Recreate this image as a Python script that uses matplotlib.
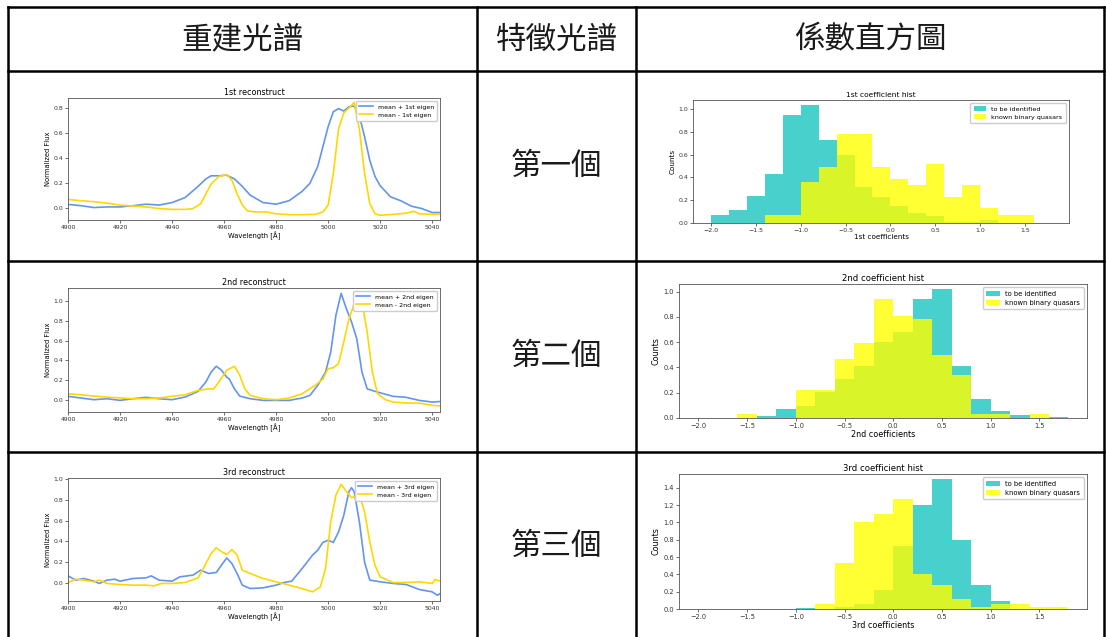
import matplotlib.pyplot as plt
import numpy as np

plt.rcParams['font.family'] = ['DejaVu Sans']

W, H = 1106, 637

# table text
headers = ['重建光譜', '特徵光譜', '係數直方圖']
row_labels = ['第一個', '第二個', '第三個']
ordinals = ['1st', '2nd', '3rd']

# ---- reconstructed spectra (wavelength in Angstrom, normalized flux) ----
wl_plus_1 = [4900, 4905, 4910, 4915, 4920, 4925, 4930, 4935, 4940, 4945, 4950, 4953, 4955,
             4958, 4961, 4964, 4967, 4970, 4975, 4980, 4985, 4990, 4993, 4996, 4998, 5000,
             5002, 5004, 5006, 5008, 5010, 5012, 5014, 5016, 5018, 5020, 5024, 5028, 5032,
             5036, 5040, 5044]
flux_plus_1 = [0.025, 0.015, 0.0, 0.005, 0.005, 0.015, 0.027, 0.02, 0.04, 0.08, 0.17, 0.23,
               0.255, 0.255, 0.26, 0.23, 0.17, 0.10, 0.04, 0.027, 0.055, 0.13, 0.195, 0.33,
               0.49, 0.65, 0.77, 0.795, 0.775, 0.81, 0.815, 0.735, 0.57, 0.38, 0.25, 0.175,
               0.086, 0.054, 0.011, -0.008, -0.04, -0.04]
wl_minus_1 = [4900, 4905, 4910, 4913, 4915, 4920, 4925, 4930, 4935, 4940, 4945, 4948, 4951,
              4953, 4955, 4958, 4961, 4963, 4965, 4967, 4969, 4972, 4976, 4980, 4985, 4990,
              4995, 4998, 5000, 5002, 5004, 5006, 5008, 5010, 5012, 5014, 5016, 5018, 5020,
              5025, 5030, 5033, 5035, 5040, 5044]
flux_minus_1 = [0.065, 0.055, 0.047, 0.04, 0.035, 0.02, 0.012, 0.005, -0.008, -0.015, -0.015,
                -0.008, 0.03, 0.11, 0.19, 0.25, 0.265, 0.22, 0.11, 0.02, -0.027, -0.035,
                -0.035, -0.05, -0.057, -0.057, -0.055, -0.035, 0.02, 0.275, 0.63, 0.76, 0.80,
                0.845, 0.63, 0.275, 0.032, -0.05, -0.062, -0.055, -0.045, -0.03, -0.05,
                -0.055, -0.05]

wl_plus_2 = [4900, 4905, 4910, 4915, 4920, 4925, 4930, 4935, 4940, 4945, 4950, 4953, 4955,
             4957, 4959, 4961, 4962, 4964, 4966, 4970, 4975, 4980, 4985, 4990, 4993, 4996,
             4999, 5001, 5003, 5005, 5007, 5009, 5011, 5013, 5015, 5018, 5020, 5025, 5030,
             5035, 5040, 5044]
flux_plus_2 = [0.034, 0.017, 0.0, 0.01, -0.007, 0.01, 0.024, 0.01, 0.0, 0.027, 0.085, 0.18,
               0.28, 0.34, 0.30, 0.23, 0.21, 0.11, 0.037, 0.01, -0.007, -0.007, -0.007,
               0.017, 0.044, 0.146, 0.28, 0.485, 0.86, 1.08, 0.925, 0.79, 0.62, 0.28, 0.11,
               0.085, 0.07, 0.034, 0.024, -0.007, -0.024, -0.017]
wl_minus_2 = [4900, 4905, 4910, 4915, 4920, 4925, 4930, 4935, 4940, 4945, 4950, 4954, 4956,
              4958, 4961, 4964, 4966, 4968, 4970, 4975, 4980, 4985, 4990, 4995, 4998, 5000,
              5002, 5004, 5006, 5008, 5010, 5012, 5013, 5015, 5017, 5019, 5022, 5025, 5030,
              5035, 5040, 5044]
flux_minus_2 = [0.06, 0.05, 0.037, 0.027, 0.017, 0.01, 0.01, 0.017, 0.034, 0.05, 0.095, 0.11,
                0.11, 0.18, 0.30, 0.34, 0.25, 0.11, 0.044, 0.01, 0.0, 0.017, 0.06, 0.146,
                0.21, 0.315, 0.325, 0.366, 0.586, 0.82, 0.976, 1.03, 0.99, 0.69, 0.28, 0.06,
                0.0, -0.024, -0.034, -0.034, -0.058, -0.064]

wl_plus_3 = [4900, 4903, 4906, 4910, 4912, 4915, 4918, 4920, 4925, 4930, 4932, 4935, 4940,
             4943, 4948, 4951, 4954, 4957, 4959, 4961, 4963, 4965, 4967, 4970, 4975, 4980,
             4983, 4986, 4990, 4994, 4996, 4998, 5000, 5002, 5004, 5006, 5008, 5009, 5010,
             5012, 5014, 5016, 5020, 5025, 5030, 5035, 5040, 5042, 5044]
flux_plus_3 = [0.067, 0.026, 0.042, 0.016, -0.006, 0.026, 0.035, 0.016, 0.042, 0.048, 0.067,
               0.026, 0.016, 0.058, 0.074, 0.122, 0.09, 0.10, 0.17, 0.24, 0.186, 0.09,
               -0.022, -0.055, -0.048, -0.022, 0.003, 0.016, 0.138, 0.267, 0.315, 0.39, 0.41,
               0.39, 0.49, 0.65, 0.88, 0.916, 0.88, 0.59, 0.20, 0.026, 0.01, -0.006, -0.016,
               -0.064, -0.087, -0.12, -0.087]
wl_minus_3 = [4900, 4903, 4906, 4910, 4912, 4915, 4920, 4925, 4930, 4933, 4936, 4940, 4945,
              4950, 4952, 4955, 4957, 4959, 4961, 4963, 4965, 4967, 4970, 4975, 4980, 4985,
              4990, 4994, 4997, 4999, 5001, 5003, 5005, 5007, 5009, 5010, 5012, 5014, 5016,
              5018, 5020, 5025, 5030, 5035, 5040, 5041, 5044]
flux_minus_3 = [0.003, 0.035, 0.026, 0.01, 0.026, -0.006, -0.016, -0.022, -0.022, -0.029,
                -0.006, -0.006, 0.003, 0.048, 0.138, 0.283, 0.338, 0.30, 0.273, 0.32, 0.267,
                0.122, 0.09, 0.042, 0.01, -0.022, -0.055, -0.087, -0.039, 0.138, 0.59, 0.846,
                0.95, 0.88, 0.82, 0.83, 0.846, 0.685, 0.395, 0.17, 0.058, 0.003, 0.003, 0.01,
                -0.006, 0.032, 0.01]

spectra = [
    (wl_plus_1, flux_plus_1, wl_minus_1, flux_minus_1, (-0.1, 0.88), [0.0, 0.2, 0.4, 0.6, 0.8]),
    (wl_plus_2, flux_plus_2, wl_minus_2, flux_minus_2, (-0.125, 1.135), [0.0, 0.2, 0.4, 0.6, 0.8, 1.0]),
    (wl_plus_3, flux_plus_3, wl_minus_3, flux_minus_3, (-0.175, 1.01), [0.0, 0.2, 0.4, 0.6, 0.8, 1.0]),
]

# ---- coefficient histograms (normalized counts per 0.2 bin) ----
bin_edges = [-2.0, -1.8, -1.6, -1.4, -1.2, -1.0, -0.8, -0.6, -0.4, -0.2, 0.0,
             0.2, 0.4, 0.6, 0.8, 1.0, 1.2, 1.4, 1.6, 1.8]
unknown_1 = [0.067, 0.11, 0.24, 0.43, 0.95, 1.04, 0.73, 0.60, 0.32, 0.23, 0.15, 0.087,
             0.058, 0.012, 0.012, 0.023, 0, 0, 0]
binary_1 = [0, 0, 0, 0.067, 0.067, 0.36, 0.49, 0.78, 0.78, 0.49, 0.39, 0.33, 0.52, 0.23,
            0.33, 0.13, 0.067, 0.067, 0]
unknown_2 = [0, 0, 0, 0.016, 0.074, 0.095, 0.205, 0.31, 0.41, 0.60, 0.68, 0.94, 1.02, 0.41,
             0.15, 0.053, 0.026, 0, 0.008]
binary_2 = [0, 0, 0.032, 0, 0, 0.22, 0.22, 0.47, 0.59, 0.94, 0.81, 0.78, 0.50, 0.34, 0.034,
            0.034, 0, 0.032, 0]
unknown_3 = [0, 0, 0, 0, 0, 0.012, 0, 0.027, 0.058, 0.22, 0.73, 1.20, 1.50, 0.80, 0.28,
             0.097, 0, 0, 0]
binary_3 = [0, 0, 0, 0, 0, 0, 0.058, 0.53, 1.00, 1.10, 1.27, 0.41, 0.28, 0.12, 0.027, 0.058,
            0.058, 0.027, 0.027]

hists = [
    (unknown_1, binary_1, 1.08, [0.0, 0.2, 0.4, 0.6, 0.8, 1.0]),
    (unknown_2, binary_2, 1.06, [0.0, 0.2, 0.4, 0.6, 0.8, 1.0]),
    (unknown_3, binary_3, 1.56, [0.0, 0.2, 0.4, 0.6, 0.8, 1.0, 1.2, 1.4]),
]

# axes boxes in pixels: left, top, right, bottom
spec_boxes = [(68, 98, 440, 220), (68, 288, 440, 412), (68, 478, 440, 601)]
hist_boxes = [(693, 100, 1069, 223), (679, 284, 1087, 418), (679, 474, 1087, 609)]
# title, axis label, tick label, legend sizes per histogram row
hist_fonts = [(5.4, 5.2, 4.5, 4.6), (6.1, 5.8, 4.8, 4.9), (6.1, 5.8, 4.8, 4.9)]


def px_axes(fig, box):
    l, t, r, b = box
    return fig.add_axes([l / W, 1 - b / H, (r - l) / W, (b - t) / H])


def style_axes(ax, tick_size):
    ax.tick_params(labelsize=tick_size, length=2, width=0.5, pad=1.5, colors='#333333')
    for sp in ax.spines.values():
        sp.set_linewidth(0.6)
        sp.set_color('#555555')


fig = plt.figure(figsize=(W / 100, H / 100), dpi=100)

# table grid
grid = fig.add_axes([0, 0, 1, 1])
grid.set_xlim(0, W)
grid.set_ylim(H, 0)
grid.axis('off')
col_x = [8, 477, 636, 1104]
row_y = [7, 71, 261, 452]
for y in row_y:
    grid.plot([col_x[0], col_x[-1]], [y, y], color='black', lw=1.8, solid_capstyle='projecting')
for x in col_x:
    grid.plot([x, x], [row_y[0], H + 5], color='black', lw=1.8, solid_capstyle='projecting')

cjk = ['Noto Sans CJK TC', 'DejaVu Sans']
header_x = [(col_x[0] + col_x[1]) / 2, (col_x[1] + col_x[2]) / 2, (col_x[2] + col_x[3]) / 2]
for hx, txt in zip(header_x, headers):
    grid.text(hx, 40, txt, ha='center', va='center', fontsize=22, family=cjk,
              fontweight=300, color='#1a1a1a')
label_y = [166, 356, 546]
for ly, txt in zip(label_y, row_labels):
    grid.text(header_x[1], ly, txt, ha='center', va='center', fontsize=22, family=cjk,
              fontweight=300, color='#1a1a1a')

# spectra panels
for i, (wp, fp, wm, fm, ylim, yt) in enumerate(spectra):
    ax = px_axes(fig, spec_boxes[i])
    ax.plot(wp, fp, color='cornflowerblue', lw=1.2, label=f'mean + {ordinals[i]} eigen')
    ax.plot(wm, fm, color='gold', lw=1.2, label=f'mean - {ordinals[i]} eigen')
    ax.set_xlim(4900, 5043)
    ax.set_ylim(*ylim)
    ax.set_xticks([4900, 4920, 4940, 4960, 4980, 5000, 5020, 5040])
    ax.set_yticks(yt)
    ax.set_title(f'{ordinals[i]} reconstruct', fontsize=5.8, pad=2)
    ax.set_xlabel('Wavelength [Å]', fontsize=4.9, labelpad=1)
    ax.set_ylabel('Normalized Flux', fontsize=4.9, labelpad=2)
    style_axes(ax, 4.4)
    ax.legend(loc='upper right', fontsize=4.5, handlelength=2.2, borderpad=0.5,
              labelspacing=0.4, framealpha=1, edgecolor='#cccccc', fancybox=True)

# histogram panels
for i, (unk, binq, ytop, yt) in enumerate(hists):
    ax = px_axes(fig, hist_boxes[i])
    ax.hist(bin_edges[:-1], bins=bin_edges, weights=unk, color='mediumturquoise',
            label='to be identified')
    ax.hist(bin_edges[:-1], bins=bin_edges, weights=binq, color='yellow', alpha=0.8,
            label='known binary quasars')
    ax.set_xlim(-2.2, 1.99)
    ax.set_ylim(0, ytop)
    ax.set_xticks([-2.0, -1.5, -1.0, -0.5, 0.0, 0.5, 1.0, 1.5])
    ax.set_yticks(yt)
    tsize, lsize, ksize, gsize = hist_fonts[i]
    ax.set_title(f'{ordinals[i]} coefficient hist', fontsize=tsize, pad=2)
    ax.set_xlabel(f'{ordinals[i]} coefficients', fontsize=lsize, labelpad=1)
    ax.set_ylabel('Counts', fontsize=lsize, labelpad=2)
    style_axes(ax, ksize)
    ax.legend(loc='upper right', fontsize=gsize, handlelength=2.0, borderpad=0.5,
              labelspacing=0.4, framealpha=1, edgecolor='#cccccc')

fig.savefig('out.png', dpi=100)
